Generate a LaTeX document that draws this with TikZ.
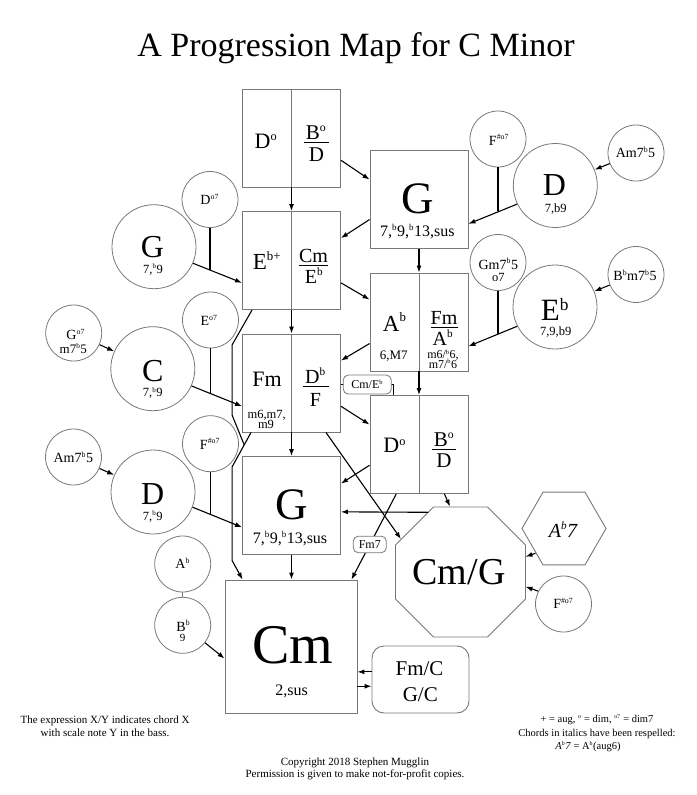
\documentclass[tikz,border=0pt]{standalone}
\usepackage{fontspec}
\setmainfont{Liberation Serif}
\usetikzlibrary{arrows.meta,shapes.geometric,calc}
\definecolor{bord}{gray}{0.47}
\newcommand{\fs}[1]{\fontsize{#1}{#1}\selectfont}
\newcommand{\sps}[1]{\textsuperscript{\scalebox{0.8}{#1}}}
\begin{document}
\begin{tikzpicture}[x=1pt,y=-1pt,
  box/.style={draw=bord,line width=0.9pt,minimum width=98pt,minimum height=98pt,inner sep=0pt},
  smallc/.style={circle,draw=bord,line width=0.8pt,minimum size=56pt,inner sep=0pt},
  bigc/.style={circle,draw=bord,line width=0.8pt,minimum size=84pt,inner sep=0pt},
  txt/.style={anchor=base,inner sep=0pt},
  conn/.style={line width=1.1pt,black},
  arr/.style={conn,-{Latex[length=7pt,width=5pt]}},
  lab/.style={draw=bord,rounded corners=5pt,fill=white,line width=0.8pt,inner sep=0pt,font=\fs{12}},
  divider/.style={draw=bord,line width=0.9pt},
  fbar/.style={line width=1pt,black},
]
\useasboundingbox (0,0) rectangle (696,795);

% ---------- title ----------
\node[txt,font=\fs{34}] (title) at (356,56) {A Progression Map for C Minor};

% ---------- boxes ----------
\node[box] (T1) at (291.5,138) {};
\node[box] (E1) at (291.5,260.5) {};
\node[box] (F1) at (291.5,383) {};
\node[box] (G2) at (291.5,505.5) {};
\node[box] (G1) at (419,199.5) {};
\node[box] (A1) at (419,322) {};
\node[box] (D1) at (419,444.5) {};
\node[box,minimum width=132pt,minimum height=133pt] (C1) at (291,646.5) {};
\node[draw=bord,rounded corners=12pt,line width=0.9pt,minimum width=97pt,minimum height=67pt,inner sep=0pt] (FC) at (420.5,679.5) {};
\node[regular polygon,regular polygon sides=8,minimum size=140.7pt,draw=bord,line width=0.9pt,inner sep=0pt] (OC) at (460.5,572) {};
\node[regular polygon,regular polygon sides=6,minimum size=84pt,draw=bord,line width=0.9pt,inner sep=0pt] (HX) at (564,528.5) {};

\foreach \b in {T1,E1,F1,A1,D1} \draw[divider] (\b.north) -- (\b.south);

% ---------- circles ----------
\node[smallc] (Fr1) at (498,139) {};
\node[bigc]   (Dr)  at (555.3,185.5) {};
\node[smallc] (Amr) at (636,153) {};
\node[smallc] (Dl7) at (210,199.5) {};
\node[bigc]   (Gl)  at (154,246.7) {};
\node[smallc] (Gm)  at (498,262.5) {};
\node[bigc]   (Er)  at (555,307) {};
\node[smallc] (Bbm) at (636,274.5) {};
\node[smallc] (Go)  at (73.7,333) {};
\node[bigc]   (Cl)  at (152.8,368.7) {};
\node[smallc] (Eo)  at (210.5,320) {};
\node[smallc] (Aml) at (73.5,457) {};
\node[bigc]   (Dl)  at (153,492) {};
\node[smallc] (Fl)  at (210.5,443.7) {};
\node[smallc] (Ab)  at (182.7,564) {};
\node[smallc] (Bb)  at (182.7,625.3) {};
\node[smallc] (Fc)  at (563.5,604) {};

% ---------- texts in boxes ----------
\node[txt,font=\fs{22}] (tT1a) at (266,148) {D\sps{o}};
\node[txt,font=\fs{21}] (tT1b) at (316,139) {B\sps{o}};
\draw[fbar] (304,142.5) -- (328.5,142.5);
\node[txt,font=\fs{21}] (tT1c) at (316.5,161.7) {D};

\node[txt,font=\fs{45}] (tG1a) at (418,213.3) {G};
\node[txt,font=\fs{16}] (tG1b) at (417.3,236.7) {7,\sps{b}9,\sps{b}13,sus};

\node[txt,font=\fs{23}] (tE1a) at (267,269.3) {E\sps{b+}};
\node[txt,font=\fs{20}] (tE1b) at (313.5,262.5) {Cm};
\draw[fbar] (299,265.5) -- (328,265.5);
\node[txt,font=\fs{20}] (tE1c) at (314,283.3) {E\sps{b}};

\node[txt,font=\fs{23}] (tA1a) at (394.7,331) {A\sps{b}};
\node[txt,font=\fs{13}] (tA1b) at (393.7,359.3) {6,M7};
\node[txt,font=\fs{20}] (tA1c) at (444,324.3) {Fm};
\draw[fbar] (430.7,327) -- (457.7,327);
\node[txt,font=\fs{20}] (tA1d) at (443,345) {A\sps{b}};
\node[txt,font=\fs{12}] (tA1e) at (443,358.6) {m6/\sps{b}6,};
\node[txt,font=\fs{12}] (tA1f) at (443,368.2) {m7/\sps{b}6};

\node[txt,font=\fs{22}] (tF1a) at (267,386) {Fm};
\node[txt,font=\fs{20}] (tF1b) at (315.5,383.3) {D\sps{b}};
\draw[fbar] (303.3,386.5) -- (329.3,386.5);
\node[txt,font=\fs{20}] (tF1c) at (315.5,406.7) {F};
\node[txt,font=\fs{12.5}] (tF1d) at (266.7,418) {m6,m7,};
\node[txt,font=\fs{12.5}] (tF1e) at (266,428.3) {m9};

\node[txt,font=\fs{22}] (tD1a) at (394.7,452.7) {D\sps{o}};
\node[txt,font=\fs{21}] (tD1b) at (444,446) {B\sps{o}};
\draw[fbar] (432.3,449) -- (455.7,449);
\node[txt,font=\fs{21}] (tD1c) at (444,467.3) {D};

\node[txt,font=\fs{45}] (tG2a) at (291.8,519.3) {G};
\node[txt,font=\fs{16}] (tG2b) at (290,543.3) {7,\sps{b}9,\sps{b}13,sus};

\node[txt,font=\fs{56}] (tC1a) at (292.5,663.3) {Cm};
\node[txt,font=\fs{16}] (tC1b) at (291.7,695) {2,sus};

\node[txt,font=\fs{21}] (tFCa) at (419.5,675) {Fm/C};
\node[txt,font=\fs{21}] (tFCb) at (420.3,701.7) {G/C};

\node[txt,font=\fs{38}] (tOC) at (459,584.3) {Cm/G};
\node[txt,font=\fs{20}] (tHX) at (563.3,537.3) {\textit{A\sps{b}7}};

% ---------- texts in circles ----------
\node[txt,font=\fs{14}] at (499,145) {F\sps{\#o7}};
\node[txt,font=\fs{32}] at (554.5,195) {D};
\node[txt,font=\fs{12.5}] at (555.7,212.7) {7,b9};
\node[txt,font=\fs{14}] at (635.5,157.7) {Am7\sps{b}5};
\node[txt,font=\fs{14}] at (209.7,204.3) {D\sps{o7}};
\node[txt,font=\fs{32}] at (152.5,257.3) {G};
\node[txt,font=\fs{12.5}] at (153,273.3) {7,\sps{b}9};
\node[txt,font=\fs{14}] at (498.3,269) {Gm7\sps{b}5};
\node[txt,font=\fs{12.5}] at (498.3,281.7) {o7};
\node[txt,font=\fs{31}] at (555,320) {E\sps{b}};
\node[txt,font=\fs{12.5}] at (555.7,335) {7,9,b9};
\node[txt,font=\fs{14}] at (635,280.7) {B\sps{b}m7\sps{b}5};
\node[txt,font=\fs{14}] at (75.7,339.3) {G\sps{o7}};
\node[txt,font=\fs{13}] at (73.3,353.3) {m7\sps{b}5};
\node[txt,font=\fs{32}] at (152.8,381.7) {C};
\node[txt,font=\fs{12.5}] at (152.8,396.7) {7,\sps{b}9};
\node[txt,font=\fs{14}] at (209,325.7) {E\sps{o7}};
\node[txt,font=\fs{14}] at (73.3,462.3) {Am7\sps{b}5};
\node[txt,font=\fs{32}] at (152.7,504.3) {D};
\node[txt,font=\fs{12.5}] at (152.7,520) {7,\sps{b}9};
\node[txt,font=\fs{14}] at (210,449) {F\sps{\#o7}};
\node[txt,font=\fs{14}] at (182.7,568.3) {A\sps{b}};
\node[txt,font=\fs{14}] at (183.3,631) {B\sps{b}};
\node[txt,font=\fs{11}] at (182.7,641.7) {9};
\node[txt,font=\fs{14}] at (563.3,608.3) {F\sps{\#o7}};

% ---------- connectors ----------
\draw[arr] (T1.south) -- (E1.north);
\draw[arr] ([yshift=-71.7pt]T1.north east) -- ([yshift=-29.5pt]G1.north west);
\draw[arr] ([yshift=-69.5pt]G1.north west) -- ([yshift=-27pt]E1.north east);
\draw[arr] (G1.south) -- (A1.north);

\coordinate (j1) at ($(Dr.206)!0.37!([yshift=-73.8pt]G1.north east)$);
\draw[arr] (Dr.206) -- ([yshift=-73.8pt]G1.north east);
\draw[conn] (Fr1.south) -- (Fr1.south |- j1);
\draw[arr] (Amr) -- (Dr);

\coordinate (j2) at ($(Gl.337)!0.345!([yshift=-71.8pt]E1.north west)$);
\draw[arr] (Gl.337) -- ([yshift=-71.8pt]E1.north west);
\draw[conn] (Dl7.south) -- (Dl7.south |- j2);

\draw[arr] ([yshift=-71.8pt]E1.north east) -- ([yshift=-27pt]A1.north west);
\draw[arr] (E1.south) -- (F1.north);

\coordinate (j3) at ($(Er.207)!0.40!([yshift=-73.7pt]A1.north east)$);
\draw[arr] (Er.207) -- ([yshift=-73.7pt]A1.north east);
\draw[conn] (Gm.south) -- (Gm.south |- j3);
\draw[arr] (Bbm) -- (Er);

\draw[arr] (Go) -- (Cl);
\coordinate (j4) at ($(Cl.336)!0.36!([yshift=-72.7pt]F1.north west)$);
\draw[arr] (Cl.336) -- ([yshift=-72.7pt]F1.north west);
\draw[conn] (Eo.south) -- (Eo.south |- j4);

\draw[arr] (A1.south) -- (D1.north);
\draw[arr] ([yshift=-71pt]A1.north west) -- ([yshift=-27pt]F1.north east);
\draw[arr] (F1.south) -- (G2.north);
\draw[arr] ([yshift=-72.7pt]F1.north east) -- ([yshift=-29.5pt]D1.north west);

\coordinate (c1) at ([yshift=-51pt]F1.north east);
\draw[conn,line width=0.9pt] (c1) -| node[lab,pos=0.25,minimum width=48pt,minimum height=19pt] (lCm) {Cm/E\sps{b}} ([xshift=24pt]D1.north west);

\draw[arr] ([xshift=-15pt]F1.south east) -- (OC.151);
\draw[arr] ([yshift=-70.2pt]D1.north west) -- ([yshift=-27.5pt]G2.north east);
\draw[arr] ([xshift=-24pt]D1.south east) -- ([xshift=-10.5pt]OC.north);
\draw[arr] ($(OC.center)+(-32.2,-59.7)$) -- ([yshift=-55.8pt]G2.north east);
\draw[arr] ([xshift=26.7pt]D1.south west) -- node[lab,pos=0.59,minimum width=33pt,minimum height=16.6pt] (lFm) {Fm7} ([xshift=-6pt]C1.north east);
\draw[arr] (G2.south) -- (G2.south |- C1.north);

\coordinate (b1) at ([xshift=9pt]F1.south west);
\coordinate (b2) at ($(b1)+(-19,34.5)$);
\coordinate (jB) at ($(b1)!0.36!(b2)$);
\draw[arr] (b1) -- (b2) -- ++(0,93.5) -- ([xshift=18pt]C1.north west);
\draw[conn] ([xshift=10pt]E1.south west) -- ++(-20,35) -- ++(0,70) -- (jB);

\coordinate (j5) at ($(Dl.339)!0.368!([yshift=-71.2pt]G2.north west)$);
\draw[arr] (Dl.339) -- ([yshift=-71.2pt]G2.north west);
\draw[conn] (Fl.south) -- (Fl.south |- j5);
\draw[arr] (Aml) -- (Dl);

\draw[draw=bord,line width=0.8pt] (Ab.south) -- (Bb.north);
\draw[arr] (Bb.322) -- ([yshift=-79pt]C1.north west);

\coordinate (f1) at ([yshift=-26.3pt]FC.north west);
\coordinate (f2) at ([yshift=-40.7pt]FC.north west);
\draw[arr] (f1) -- (f1 -| C1.east);
\draw[arr] (f2 -| C1.east) -- (f2);

\draw[arr] ($(HX.center)+(-28.5,24.8)$) -- ($(OC.center)+(65,-15.3)$);
\draw[arr] (Fc.153) -- ($(OC.center)+(65,14.7)$);

% ---------- notes ----------
\node[txt,font=\fs{11}] (n1) at (105,723) {The expression X/Y indicates chord X};
\node[txt,font=\fs{11}] (n2) at (105,736) {with scale note Y in the bass.};
\node[txt,font=\fs{11}] (n3) at (355,765) {Copyright 2018 Stephen Mugglin};
\node[txt,font=\fs{11}] (n4) at (355,777) {Permission is given to make not-for-profit copies.};
\node[txt,font=\fs{10.5}] (n5) at (597,722.7) {+ = aug, \sps{o} = dim, \sps{o7} = dim7};
\node[txt,font=\fs{10.5}] (n6) at (597,736) {Chords in italics have been respelled:};
\node[txt,font=\fs{10.5}] (n7) at (588,749.3) {\textit{A\sps{b}7} = A\sps{b}(aug6)};
\end{tikzpicture}
\end{document}
